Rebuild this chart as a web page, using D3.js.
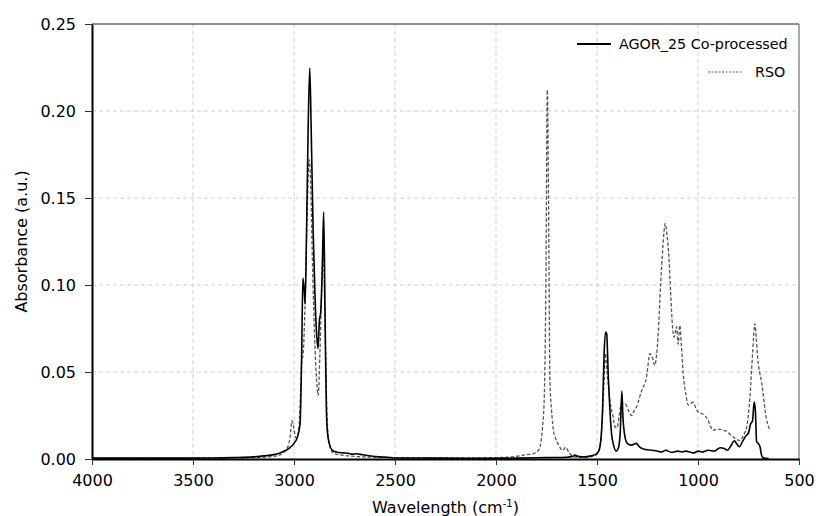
<!DOCTYPE html>
<html>
<head>
<meta charset="utf-8">
<script src="https://cdn.jsdelivr.net/npm/d3@7"></script>
<style>
  body { margin: 0; background: #fff; }
  text { font-family: "DejaVu Sans", Verdana, sans-serif; fill: #000; }
</style>
</head>
<body>
<svg id="drawing_region"></svg>
<script>
// AGOR_25 Co-processed (solid)
const agorWave = [4000, 3600, 3400, 3300, 3200, 3150, 3100, 3070, 3040, 3020, 3000, 2985, 2970, 2962, 2956, 2950, 2945, 2938, 2930, 2922, 2915, 2905, 2895, 2887, 2881, 2874, 2868, 2860, 2853, 2846, 2840, 2835, 2825, 2810, 2790, 2760, 2731, 2715, 2690, 2660, 2620, 2580, 2540, 2500, 2300, 2100, 1900, 1750, 1650, 1620, 1610, 1595, 1560, 1530, 1502, 1490, 1480, 1472, 1465, 1458, 1452, 1444, 1436, 1428, 1418, 1405, 1395, 1385, 1377, 1372, 1362, 1350, 1330, 1305, 1290, 1260, 1230, 1200, 1180, 1160, 1130, 1100, 1080, 1060, 1040, 1020, 1000, 980, 950, 920, 890, 870, 855, 840, 820, 810, 795, 780, 765, 750, 740, 730, 722, 716, 710, 702, 693, 685, 675, 650];
const agorAbs = [0.0005, 0.0005, 0.0006, 0.0008, 0.0012, 0.0018, 0.0025, 0.0035, 0.005, 0.0065, 0.009, 0.012, 0.02, 0.06, 0.104, 0.098, 0.089, 0.13, 0.19, 0.2247, 0.19, 0.13, 0.09, 0.07, 0.0635, 0.08, 0.084, 0.11, 0.142, 0.08, 0.03, 0.016, 0.0087, 0.005, 0.004, 0.0035, 0.0033, 0.0028, 0.003, 0.0024, 0.0017, 0.0012, 0.001, 0.0006, 0.0005, 0.0004, 0.0005, 0.0008, 0.001, 0.0015, 0.0022, 0.0015, 0.0012, 0.0018, 0.003, 0.005, 0.012, 0.03, 0.06, 0.073, 0.072, 0.047, 0.028, 0.0146, 0.008, 0.0045, 0.006, 0.015, 0.039, 0.025, 0.013, 0.009, 0.008, 0.009, 0.007, 0.0055, 0.005, 0.0045, 0.004, 0.005, 0.0038, 0.0045, 0.004, 0.0045, 0.004, 0.0035, 0.0045, 0.004, 0.005, 0.0045, 0.0065, 0.006, 0.005, 0.007, 0.0105, 0.009, 0.007, 0.01, 0.013, 0.015, 0.02, 0.022, 0.0327, 0.028, 0.01, 0.009, 0.007, 0.002, 0.0005, 0.0003];

// RSO (dashed)
const rsoWave = [4000, 3500, 3200, 3100, 3060, 3035, 3020, 3010, 3003, 2990, 2980, 2970, 2962, 2955, 2945, 2935, 2925, 2918, 2908, 2898, 2888, 2880, 2872, 2863, 2855, 2848, 2840, 2832, 2820, 2800, 2700, 2600, 2400, 2200, 2000, 1900, 1850, 1816, 1790, 1780, 1770, 1761, 1753, 1746, 1740, 1733, 1725, 1715, 1705, 1690, 1670, 1655, 1640, 1620, 1600, 1560, 1510, 1490, 1475, 1465, 1458, 1450, 1436, 1420, 1410, 1400, 1390, 1378, 1362, 1345, 1329, 1315, 1304, 1280, 1255, 1238, 1225, 1214, 1205, 1197, 1185, 1175, 1162, 1155, 1143, 1135, 1126, 1118, 1110, 1106, 1098, 1090, 1082, 1073, 1060, 1048, 1035, 1024, 1010, 999, 980, 966, 949, 935, 925, 910, 891, 875, 858, 840, 825, 805, 792, 776, 759, 743, 730, 718, 712, 705, 695, 685, 675, 668, 655, 644];
const rsoAbs = [0.0005, 0.0005, 0.0008, 0.0015, 0.003, 0.006, 0.012, 0.022, 0.019, 0.012, 0.014, 0.03, 0.056, 0.06, 0.09, 0.14, 0.172, 0.16, 0.11, 0.07, 0.045, 0.0365, 0.06, 0.095, 0.12, 0.09, 0.04, 0.015, 0.006, 0.003, 0.0015, 0.001, 0.0007, 0.0006, 0.0008, 0.0015, 0.0025, 0.003, 0.005, 0.008, 0.018, 0.0356, 0.1, 0.212, 0.15, 0.045, 0.028, 0.016, 0.012, 0.008, 0.005, 0.0068, 0.004, 0.0015, 0.001, 0.001, 0.002, 0.005, 0.02, 0.045, 0.0607, 0.05, 0.0337, 0.024, 0.0183, 0.018, 0.025, 0.032, 0.032, 0.028, 0.025, 0.028, 0.03, 0.039, 0.047, 0.0605, 0.058, 0.0538, 0.06, 0.072, 0.1, 0.12, 0.1353, 0.13, 0.114, 0.095, 0.0758, 0.07, 0.074, 0.076, 0.066, 0.0768, 0.065, 0.049, 0.037, 0.031, 0.032, 0.0327, 0.029, 0.027, 0.026, 0.025, 0.022, 0.018, 0.0164, 0.017, 0.017, 0.0165, 0.016, 0.014, 0.0126, 0.011, 0.0106, 0.0135, 0.0183, 0.0356, 0.06, 0.0778, 0.07, 0.0586, 0.05, 0.044, 0.035, 0.028, 0.02, 0.0164];

const xTicks = [4000, 3500, 3000, 2500, 2000, 1500, 1000, 500];
const yTicks = [0, 0.05, 0.10, 0.15, 0.20, 0.25];
const seriesNames = ['AGOR_25 Co-processed', 'RSO'];

const config = {
    width: 816,
    height: 516,
    margin: {top: 24, right: 17, bottom: 57, left: 92}
};

const svg = d3.select('#drawing_region')
    .attr('width', config.width)
    .attr('height', config.height);

const inner_width = config.width - config.margin.left - config.margin.right;
const inner_height = config.height - config.margin.top - config.margin.bottom;

const chart = svg.append('g')
    .attr('transform', `translate(${config.margin.left}, ${config.margin.top})`);

const xscale = d3.scaleLinear().domain([4000, 500]).range([0, inner_width]);
const yscale = d3.scaleLinear().domain([0, 0.25]).range([inner_height, 0]);

// grid
chart.append('g').selectAll('line')
    .data(xTicks.slice(1, -1))
    .join('line')
    .attr('x1', d => xscale(d)).attr('x2', d => xscale(d))
    .attr('y1', 0).attr('y2', inner_height)
    .attr('stroke', '#cfcfcf').attr('stroke-dasharray', '4,3');

chart.append('g').selectAll('line')
    .data(yTicks.slice(1, -1))
    .join('line')
    .attr('y1', d => yscale(d)).attr('y2', d => yscale(d))
    .attr('x1', 0).attr('x2', inner_width)
    .attr('stroke', '#cfcfcf').attr('stroke-dasharray', '4,3');

// frame top / right
chart.append('line')
    .attr('x1', 0).attr('x2', inner_width).attr('y1', 0).attr('y2', 0)
    .attr('stroke', '#222').attr('stroke-width', 1);
chart.append('line')
    .attr('x1', inner_width).attr('x2', inner_width).attr('y1', 0).attr('y2', inner_height)
    .attr('stroke', '#555').attr('stroke-width', 1);

const line = d3.line()
    .x(d => xscale(d.x))
    .y(d => yscale(d.y))
    .curve(d3.curveMonotoneX);

const rsoData = rsoWave.map((w, i) => ({x: w, y: rsoAbs[i]}));
const agorData = agorWave.map((w, i) => ({x: w, y: agorAbs[i]}));

chart.append('path')
    .attr('d', line(rsoData))
    .attr('fill', 'none')
    .attr('stroke', '#555')
    .attr('stroke-width', 1.3)
    .attr('stroke-dasharray', '3.5,2');

chart.append('path')
    .attr('d', line(agorData))
    .attr('fill', 'none')
    .attr('stroke', '#000')
    .attr('stroke-width', 1.6);

// axes
const xaxis = d3.axisBottom(xscale).tickValues(xTicks).tickSize(6).tickSizeOuter(0).tickPadding(10)
    .tickFormat(d3.format('d'));
const yaxis = d3.axisLeft(yscale).tickValues(yTicks).tickSize(7).tickSizeOuter(0).tickPadding(9)
    .tickFormat(d3.format('.2f'));

const xg = chart.append('g')
    .attr('transform', `translate(0, ${inner_height})`)
    .call(xaxis);
const yg = chart.append('g').call(yaxis);

[xg, yg].forEach(g => {
    g.select('.domain').attr('stroke', '#000').attr('stroke-width', 2);
    g.selectAll('.tick line').attr('stroke', '#333');
    g.selectAll('.tick text').style('font-size', '16px').attr('fill', '#000');
});

// axis titles
const xt = svg.append('text')
    .attr('x', config.margin.left + inner_width / 2)
    .attr('y', 513)
    .attr('text-anchor', 'middle')
    .style('font-size', '16px');
xt.append('tspan').text('Wavelength (cm');
xt.append('tspan').text('-1').attr('dy', -6).style('font-size', '10px');
xt.append('tspan').text(')').attr('dy', 6);

svg.append('text')
    .attr('transform', `translate(27, ${config.margin.top + inner_height / 2}) rotate(-90)`)
    .attr('text-anchor', 'middle')
    .style('font-size', '16px')
    .text('Absorbance (a.u.)');

// legend
const legend = svg.append('g');
legend.append('line')
    .attr('x1', 577).attr('x2', 611).attr('y1', 44).attr('y2', 44)
    .attr('stroke', '#000').attr('stroke-width', 2);
legend.append('text')
    .attr('x', 619).attr('y', 49)
    .style('font-size', '14.3px')
    .text(seriesNames[0]);
legend.append('line')
    .attr('x1', 708).attr('x2', 742).attr('y1', 72).attr('y2', 72)
    .attr('stroke', '#555').attr('stroke-width', 1).attr('stroke-dasharray', '2,1.5');
legend.append('text')
    .attr('x', 755).attr('y', 77)
    .style('font-size', '14.3px')
    .text(seriesNames[1]);
</script>
</body>
</html>
